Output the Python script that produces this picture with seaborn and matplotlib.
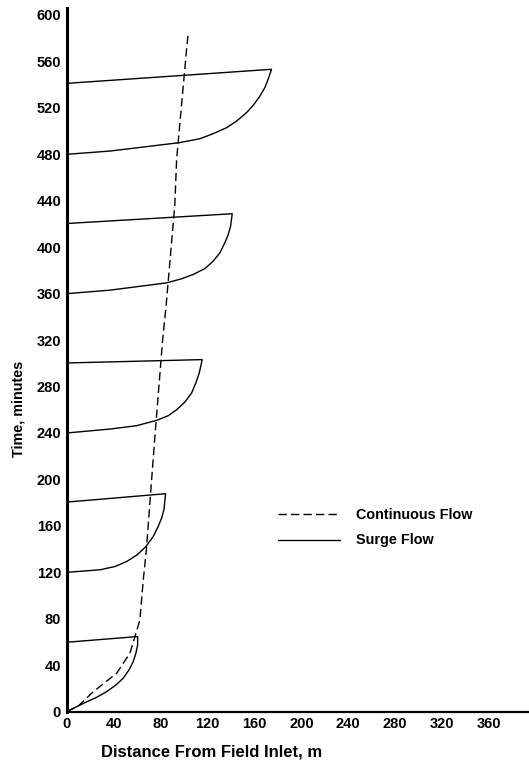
#!/usr/bin/env python3
# -*- coding: utf-8 -*-
"""Avanço e recessão: fluxo contínuo vs fluxo intermitente (surge)."""

import matplotlib
matplotlib.use('Agg')
import matplotlib.pyplot as plt
import seaborn as sns

# Fluxo contínuo (distância m, tempo min)
cont_dist = [0, 10, 22.7, 42.6, 53.9, 58.2, 62.4, 65.3, 68, 72.4, 75.2,
             81.8, 84.6, 92.2, 93.7, 102.2, 103.6]
cont_time = [0, 5, 17.2, 33.1, 50.3, 64.7, 79, 113.5, 140, 199.7, 237,
             320.4, 347.8, 436.8, 475.6, 570.4, 584.8]

# Fluxo surge: avanço até o canto, depois recessão de volta a x=0
surge1_dist = [0, 15.6, 25.6, 34, 42, 48.2, 53.1, 56.7, 59, 60.5, 60.5, 0]
surge1_time = [0, 7.8, 12.4, 17.2, 23, 28.8, 35.9, 43.1, 50.3, 57.5, 64.7, 59.8]

surge2_dist = [0, 28.4, 41.1, 51.1, 60.1, 67.5, 73.8, 78, 80.9, 82.9, 84.3, 0]
surge2_time = [120, 122.2, 125, 129.3, 135.1, 142.2, 150.9, 159.5, 166.7,
               173.9, 187.7, 180.5]

surge3_dist = [0, 36.9, 59.6, 76.7, 86.6, 93.7, 100.8, 106.5, 110.1, 113,
               115.5, 0]
surge3_time = [240, 243.4, 246.3, 250.9, 254.9, 260, 266.7, 274.5, 283.1,
               291.7, 303.2, 300.3]

surge4_dist = [0, 36.9, 85.2, 97.9, 107.8, 117.8, 124.9, 130.6, 134.8, 137.7,
               139.7, 141.1, 0]
surge4_time = [360, 363, 369.3, 372.8, 376.5, 381.6, 388, 395.2, 403.8, 410.9,
               418.1, 428.8, 420.4]

surge5_dist = [0, 36.9, 95.9, 113.5, 124.9, 136.3, 144.8, 153.3, 159, 164.6,
               168.9, 171.7, 174.6, 0]
surge5_time = [480, 482.8, 490, 493.4, 497.8, 502.9, 508.6, 515.9, 522.2, 530,
               537.4, 544.6, 553.2, 541.1]

surges = [(surge1_dist, surge1_time), (surge2_dist, surge2_time),
          (surge3_dist, surge3_time), (surge4_dist, surge4_time),
          (surge5_dist, surge5_time)]

x_ticks = [0, 40, 80, 120, 160, 200, 240, 280, 320, 360]
y_ticks = [0, 40, 80, 120, 160, 200, 240, 280, 320, 360, 400, 440, 480, 520, 560, 600]

sns.set_style('white')
plt.rcParams['font.family'] = ['Liberation Sans', 'DejaVu Sans']
plt.rcParams['text.color'] = 'black'
plt.rcParams['axes.labelcolor'] = 'black'

fig = plt.figure(figsize=(5.29, 7.61), dpi=100)
ax = fig.add_axes([0.126, 0.0648, 0.874, 0.9247])

sns.lineplot(x=cont_dist, y=cont_time, sort=False, estimator=None, ax=ax,
             color='black', linewidth=1.0, linestyle=(0, (6, 3)),
             label='Continuous Flow')
for i, (d, t) in enumerate(surges):
    sns.lineplot(x=d, y=t, sort=False, estimator=None, ax=ax,
                 color='black', linewidth=1.0,
                 label='Surge Flow' if i == 0 else None)

ax.set_xlim(0, 394)
ax.set_ylim(0, 606)
ax.set_xticks(x_ticks)
ax.set_yticks(y_ticks)
ax.tick_params(axis='both', direction='inout', length=6, width=1,
               labelsize=10.5, pad=1, colors='black')
for lab in ax.get_xticklabels() + ax.get_yticklabels():
    lab.set_fontweight('bold')

for s in ['top', 'right']:
    ax.spines[s].set_visible(False)
ax.spines['left'].set_linewidth(2.2)
ax.spines['bottom'].set_linewidth(1.6)
ax.spines['left'].set_color('black')
ax.spines['bottom'].set_color('black')

ax.set_xlabel('Distance From Field Inlet, m', fontsize=12, fontweight='bold')
ax.set_ylabel('Time, minutes', fontsize=10.4, fontweight='bold')
ax.xaxis.label.set_verticalalignment('center')
ax.xaxis.set_label_coords(0.314, -0.057)
ax.yaxis.set_label_coords(-0.088, 0.43)

leg = ax.legend(loc='upper left', bbox_to_anchor=(0.457, 0.29), frameon=False,
                handlelength=4.5, handletextpad=1.1, labelspacing=0.85,
                borderpad=0, borderaxespad=0)
for txt in leg.get_texts():
    txt.set_fontsize(10.4)
    txt.set_fontweight('bold')
    txt.set_color('black')

fig.savefig('out.png', dpi=100)
